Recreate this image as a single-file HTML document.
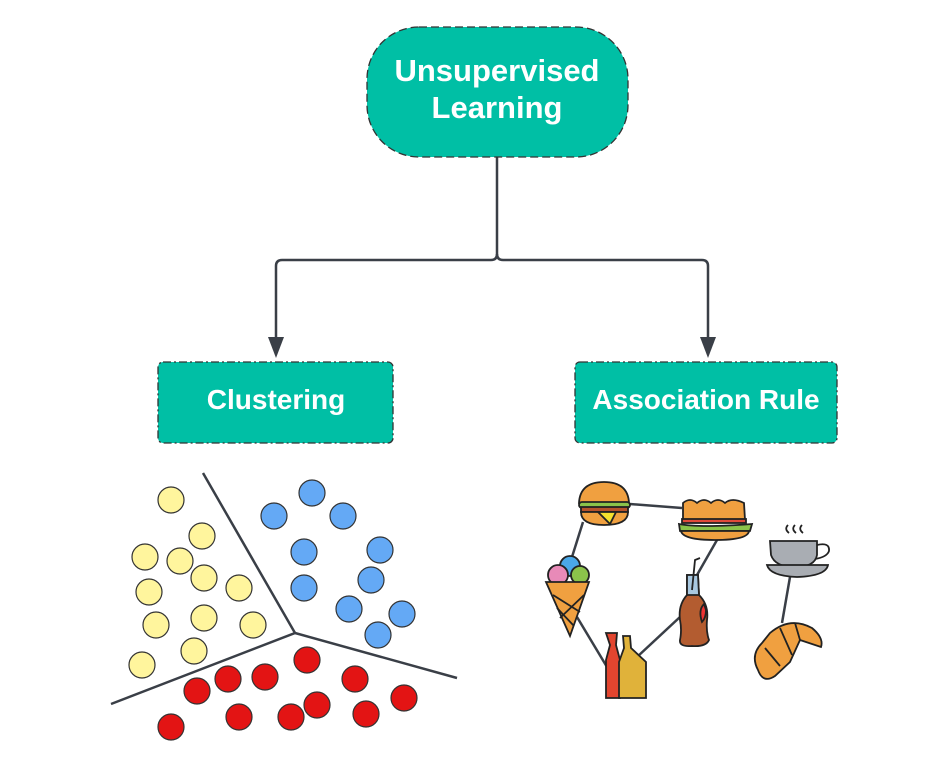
<!DOCTYPE html>
<html><head><meta charset="utf-8"><style>
html,body{margin:0;padding:0;background:#fff;}
svg{display:block}
text{font-family:"Liberation Sans",Arial,sans-serif;font-weight:bold;fill:#fff}
</style></head><body>
<svg width="928" height="757" viewBox="0 0 928 757" xmlns="http://www.w3.org/2000/svg">
<g fill="none" stroke="#3a3f47" stroke-width="2.5">
<path d="M497 157 V254 Q497 260 491 260 H282 Q276 260 276 266 V340"/>
<path d="M497 254 Q497 260 503 260 H702 Q708 260 708 266 V340"/>
</g>
<polygon points="268,337 284,337 276,358" fill="#3a3f47"/>
<polygon points="700,337 716,337 708,358" fill="#3a3f47"/>
<rect x="367" y="27" width="261" height="130" rx="52" fill="#00bfa5" stroke="#333" stroke-width="1.3" stroke-dasharray="8 4"/>
<text x="497" y="81" font-size="31" text-anchor="middle">Unsupervised</text>
<text x="497" y="118" font-size="31" text-anchor="middle">Learning</text>
<rect x="158" y="362" width="235" height="81" rx="5" fill="#00bfa5" stroke="#333" stroke-width="1.3" stroke-dasharray="8 3 2 3"/>
<text x="276" y="409" font-size="28" text-anchor="middle">Clustering</text>
<rect x="575" y="362" width="262" height="81" rx="5" fill="#00bfa5" stroke="#333" stroke-width="1.3" stroke-dasharray="8 3 2 3"/>
<text x="706" y="409" font-size="28" text-anchor="middle">Association Rule</text>
<g stroke="#3a3f47" stroke-width="2.5" fill="none">
<path d="M203 473 L295 633 L111 704"/>
<path d="M295 633 L457 678"/>
</g>
<g stroke="#333" stroke-width="1.2">
<g fill="#fff59d">
<circle cx="171" cy="500" r="13"/><circle cx="202" cy="536" r="13"/><circle cx="145" cy="557" r="13"/>
<circle cx="180" cy="561" r="13"/><circle cx="204" cy="578" r="13"/><circle cx="149" cy="592" r="13"/>
<circle cx="239" cy="588" r="13"/><circle cx="156" cy="625" r="13"/><circle cx="204" cy="618" r="13"/>
<circle cx="253" cy="625" r="13"/><circle cx="194" cy="651" r="13"/><circle cx="142" cy="665" r="13"/>
</g>
<g fill="#64a9f5">
<circle cx="312" cy="493" r="13"/><circle cx="274" cy="516" r="13"/><circle cx="343" cy="516" r="13"/>
<circle cx="304" cy="552" r="13"/><circle cx="380" cy="550" r="13"/><circle cx="371" cy="580" r="13"/>
<circle cx="304" cy="588" r="13"/><circle cx="349" cy="609" r="13"/><circle cx="402" cy="614" r="13"/>
<circle cx="378" cy="635" r="13"/>
</g>
<g fill="#e31414">
<circle cx="307" cy="660" r="13"/><circle cx="228" cy="679" r="13"/><circle cx="265" cy="677" r="13"/>
<circle cx="355" cy="679" r="13"/><circle cx="197" cy="691" r="13"/><circle cx="404" cy="698" r="13"/>
<circle cx="317" cy="705" r="13"/><circle cx="239" cy="717" r="13"/><circle cx="291" cy="717" r="13"/>
<circle cx="366" cy="714" r="13"/><circle cx="171" cy="727" r="13"/>
</g>
</g>
<g stroke="#3a3f47" stroke-width="2.5">
<line x1="630" y1="504" x2="682" y2="508"/>
<line x1="583" y1="522" x2="572" y2="557"/>
<line x1="577" y1="617" x2="607" y2="667"/>
<line x1="637" y1="657" x2="680" y2="617"/>
<line x1="697" y1="575" x2="717" y2="540"/>
<line x1="790" y1="577" x2="782" y2="623"/>
</g>
<g stroke="#222" stroke-width="1.8">
<path d="M579 503 Q580 482 604 482 Q628 482 629 503 Z" fill="#f0a040"/>
<rect x="579" y="502" width="51" height="6" rx="3" fill="#8bc34a"/>
<rect x="581" y="507" width="47" height="5" fill="#b5522b"/>
<path d="M581 512 H628 Q628 525 604 525 Q581 525 581 512 Z" fill="#f0a040"/>
<path d="M598 512 L616 512 L610 524 Z" fill="#f5e12e"/>
</g>
<g stroke="#222" stroke-width="1.8">
<path d="M683 503 Q690 497 697 503 Q704 497 711 503 Q718 497 725 503 Q732 497 744 503 L745 520 L683 520 Z" fill="#f0a040"/>
<rect x="682" y="519" width="64" height="4" fill="#e04a3a"/>
<path d="M679 524 Q700 528 752 524 L750 531 L680 531 Z" fill="#8bc34a"/>
<path d="M681 531 H749 Q748 540 715 540 Q683 540 681 531 Z" fill="#f0a040"/>
</g>
<g stroke="#222" stroke-width="1.8">
<circle cx="570" cy="566" r="10" fill="#4aa8e8"/>
<circle cx="558" cy="575" r="10" fill="#e88ab8"/>
<circle cx="580" cy="575" r="9" fill="#8bc34a"/>
<path d="M546 582 H589 L570 636 Z" fill="#f0a040"/>
<path d="M553 595 L580 612 M584 595 L560 618 M557 608 L574 626" fill="none"/>
</g>
<g stroke="#222" stroke-width="1.8">
<path d="M606 633 H617 L616 645 L620 660 V698 H606 V660 L610 645 Z" fill="#e3452f"/>
<path d="M623 636 H630 L631 648 L646 662 V698 H619 V662 L624 648 Z" fill="#e0b23a"/>
</g>
<g stroke="#222" stroke-width="1.8">
<path d="M687 575 H698 L699 595 Q709 605 707 620 Q706 632 709 640 Q706 647 692 646 Q679 647 680 640 Q682 630 680 620 Q678 605 687 595 Z" fill="#b35c30"/>
<path d="M687 575 H698 L699 595 L687 595 Z" fill="#a8c8e0"/>
<path d="M692 590 L695 560 L700 558" fill="none"/>
<path d="M704 604 Q698 610 702 622 Q706 618 706 610 Z" fill="#e33"/>
</g>
<g stroke="#222" stroke-width="1.8">
<path d="M770 541 H817 V555 Q815 567 795 567 Q775 567 771 555 Z" fill="#a9adb3"/>
<path d="M817 545 Q830 542 829 551 Q827 557 815 559" fill="none"/>
<path d="M767 565 H828 Q826 576 797 577 Q770 576 767 565 Z" fill="#a9adb3"/>
<path d="M788 525 Q784 529 789 533 M795 525 Q791 529 796 533 M802 525 Q798 529 803 533" fill="none"/>
</g>
<g stroke="#222" stroke-width="1.8">
<path d="M770 633 Q790 616 812 628 Q824 638 821 647 L800 640 L790 662 L775 676 Q763 684 758 670 Q750 655 762 643 Z" fill="#f0a040"/>
<path d="M780 628 L792 655 M795 623 L800 640 M765 648 L780 666" fill="none"/>
</g>
</svg>
</body></html>
